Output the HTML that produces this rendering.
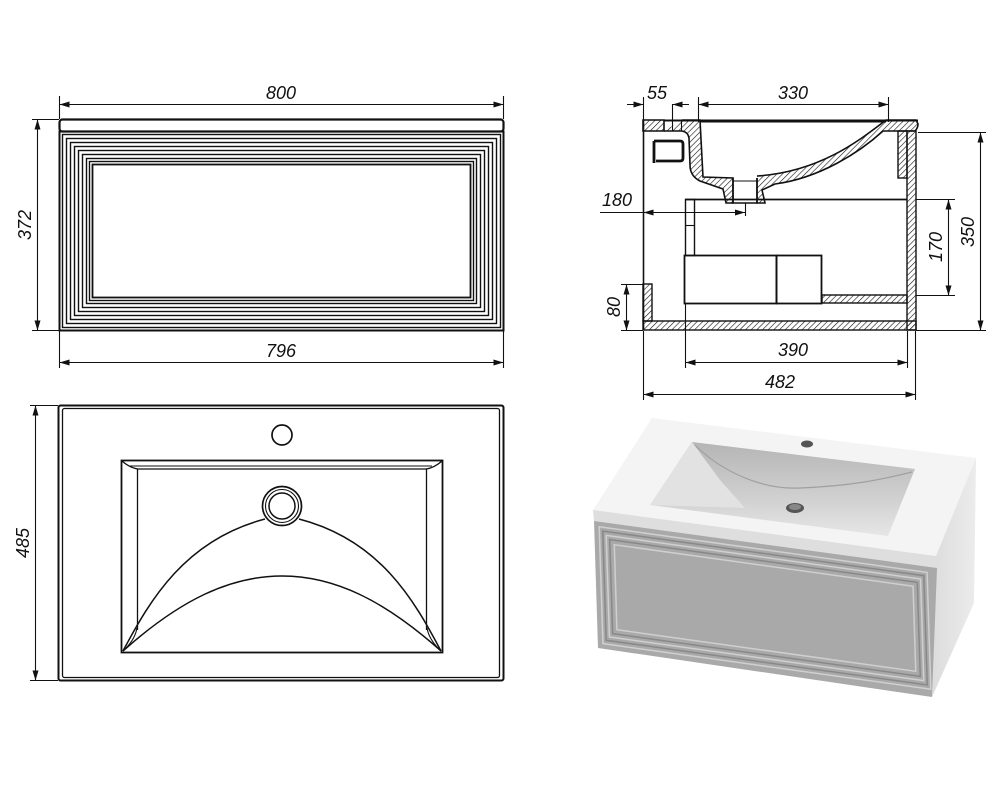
<!DOCTYPE html>
<html><head><meta charset="utf-8"><style>
html,body{margin:0;padding:0;background:#fff;}
svg{display:block;}
text{font-family:"Liberation Sans",sans-serif;font-style:italic;font-size:18px;fill:#111;}
</style></head><body>
<svg width="1000" height="800" viewBox="0 0 1000 800" xmlns="http://www.w3.org/2000/svg">
<defs>
<pattern id="h" width="4" height="4" patternUnits="userSpaceOnUse" patternTransform="rotate(45)">
<line x1="0" y1="0" x2="0" y2="4" stroke="#111" stroke-width="1.2"/>
</pattern>
<marker id="a" viewBox="0 0 10 6" refX="10" refY="3" markerWidth="10" markerHeight="6" orient="auto-start-reverse" markerUnits="userSpaceOnUse">
<path d="M0,0 L10,3 L0,6 Z" fill="#111"/>
</marker>
<linearGradient id="bas" x1="0" y1="0" x2="0" y2="1">
<stop offset="0" stop-color="#b5b5b5"/><stop offset="0.6" stop-color="#d0d0d0"/><stop offset="1" stop-color="#e6e6e6"/>
</linearGradient>
<linearGradient id="side" x1="0" y1="0" x2="1" y2="0">
<stop offset="0" stop-color="#dcdcdc"/><stop offset="1" stop-color="#ececec"/>
</linearGradient>
</defs>

<g stroke="#111" fill="none" stroke-width="1.1">
<!-- ===== FRONT VIEW ===== -->
<rect x="59.5" y="119.5" width="444" height="12" rx="3" stroke-width="2.2"/>
<rect x="59.5" y="131.5" width="444" height="199" stroke-width="2"/>
<g stroke-width="1.4">
<rect x="62.5" y="134.5" width="438" height="193" />
<rect x="66.5" y="138.5" width="430" height="185" />
<rect x="70.5" y="142.5" width="422" height="177" />
<rect x="74.5" y="146.5" width="414" height="169" />
<rect x="78.5" y="150.5" width="406" height="161" />
<rect x="82.5" y="154.5" width="398" height="153" />
<rect x="86.5" y="158.5" width="390" height="145" />
<rect x="89.5" y="161.5" width="384" height="139" />
</g>
<rect x="92.5" y="164.5" width="378" height="133" stroke-width="1.8"/>
<!-- dims -->
<line x1="59.5" y1="96" x2="59.5" y2="119"/>
<line x1="503.5" y1="96" x2="503.5" y2="119"/>
<line x1="59.5" y1="104.5" x2="503.5" y2="104.5" marker-start="url(#a)" marker-end="url(#a)"/>
<line x1="32" y1="119.5" x2="59" y2="119.5"/>
<line x1="32" y1="330.5" x2="59" y2="330.5"/>
<line x1="37.5" y1="119.5" x2="37.5" y2="330.5" marker-start="url(#a)" marker-end="url(#a)"/>
<line x1="59.5" y1="331" x2="59.5" y2="368"/>
<line x1="503.5" y1="331" x2="503.5" y2="368"/>
<line x1="59.5" y1="362.5" x2="503.5" y2="362.5" marker-start="url(#a)" marker-end="url(#a)"/>

<!-- ===== TOP VIEW ===== -->
<rect x="58.5" y="405.5" width="445" height="275" rx="2" stroke-width="2"/>
<rect x="62.5" y="408.5" width="437" height="269" rx="2" stroke-width="1.3"/>
<circle cx="282" cy="435" r="10" stroke-width="1.7"/>
<rect x="121.5" y="460.5" width="321" height="192" stroke-width="1.8"/>
<path d="M122,461 Q130,468 138,469 L426,469 Q434,468 442,461" stroke-width="1.3"/>
<path d="M130,466 L432,466"/>
<line x1="137.5" y1="469" x2="137.5" y2="630" stroke-width="1.3"/>
<line x1="426.5" y1="469" x2="426.5" y2="630" stroke-width="1.3"/>
<path d="M123,651 C150,600 185,540 265,519" stroke-width="1.5"/>
<path d="M441,651 C414,600 380,540 299,519" stroke-width="1.5"/>
<path d="M123,651 C180,600 230,576 282,576 C334,576 384,600 441,651" stroke-width="1.5"/>
<path d="M123,651 Q135,640 137,628 M441,651 Q429,640 427,628"/>
<circle cx="282" cy="506" r="19.5" stroke-width="1.7"/>
<circle cx="282" cy="506" r="16.5"/>
<circle cx="282" cy="506" r="13" stroke-width="1.5"/>
<line x1="30" y1="405.5" x2="58" y2="405.5"/>
<line x1="30" y1="680.5" x2="58" y2="680.5"/>
<line x1="35.5" y1="405.5" x2="35.5" y2="680.5" marker-start="url(#a)" marker-end="url(#a)"/>

<!-- ===== SIDE SECTION ===== -->
<path d="M643,120 L664,120 L664,131 L643,131 Z" fill="url(#h)" stroke-width="1.6"/>
<line x1="643.5" y1="120" x2="643.5" y2="330" stroke-width="1.6"/>
<line x1="672.5" y1="104" x2="672.5" y2="131"/>
<line x1="681.5" y1="120" x2="681.5" y2="131"/>
<line x1="664" y1="120.5" x2="918" y2="120.5" stroke-width="2"/>
<path d="M682,120 L700,120 L703,177 L733,178 L733,203 L726,203 L723,189 L700,181 Q690,176 690,165 L689,138 Q688,132 682,131 L664,131" fill="url(#h)" stroke-width="1.6"/>
<path d="M757,178 L757,203 L765,203 L762,190 L775,184 C820,178 860,152 883,131 L915,131 Q918,128 918,124 L916,120 L886,120 C860,140 820,172 757,176" fill="url(#h)" stroke-width="1.6"/>
<path d="M733,178 L733,203 L757,203 L757,178" stroke-width="1.6"/>
<line x1="733" y1="181" x2="757" y2="181"/>
<line x1="700" y1="122" x2="886" y2="122"/>
<path d="M654,141 L654,163 M654,141 L680,141 Q683,141 683,144 L683,158 Q683,161 680,161 L656,161" stroke-width="2.8"/>
<rect x="898" y="131" width="9" height="47" fill="url(#h)" stroke-width="1.4"/>
<rect x="907" y="131" width="9" height="199" fill="url(#h)" stroke-width="1.4"/>
<rect x="643" y="321" width="273" height="9" fill="url(#h)" stroke-width="1.4"/>
<rect x="643" y="284" width="9" height="37" fill="url(#h)" stroke-width="1.4"/>
<rect x="822" y="295" width="85" height="8" fill="url(#h)" stroke-width="1.4"/>
<line x1="685" y1="199.5" x2="907" y2="199.5" stroke-width="1.7"/>
<rect x="685.5" y="199.5" width="9" height="56" stroke-width="1.4"/>
<line x1="685" y1="225.5" x2="695" y2="225.5"/>
<rect x="684.5" y="255.5" width="92" height="48" stroke-width="1.8"/>
<rect x="776.5" y="255.5" width="45" height="48" stroke-width="1.8"/>
<!-- dims -->
<line x1="643.5" y1="97" x2="643.5" y2="120"/>
<line x1="627" y1="104.5" x2="643.5" y2="104.5" marker-end="url(#a)"/>
<line x1="672.5" y1="104.5" x2="689" y2="104.5" marker-start="url(#a)"/>
<line x1="698.5" y1="97" x2="698.5" y2="122"/>
<line x1="888.5" y1="97" x2="888.5" y2="122"/>
<line x1="698.5" y1="104.5" x2="888.5" y2="104.5" marker-start="url(#a)" marker-end="url(#a)"/>
<line x1="600" y1="212.5" x2="745" y2="212.5"/>
<line x1="643.5" y1="212.5" x2="745" y2="212.5" marker-start="url(#a)" marker-end="url(#a)"/>
<line x1="745.5" y1="203" x2="745.5" y2="216"/>
<line x1="916" y1="199.5" x2="955" y2="199.5"/>
<line x1="916" y1="295.5" x2="955" y2="295.5"/>
<line x1="948.5" y1="199.5" x2="948.5" y2="295.5" marker-start="url(#a)" marker-end="url(#a)"/>
<line x1="918" y1="132.5" x2="986" y2="132.5"/>
<line x1="916" y1="330.5" x2="986" y2="330.5"/>
<line x1="980.5" y1="132.5" x2="980.5" y2="330.5" marker-start="url(#a)" marker-end="url(#a)"/>
<line x1="621" y1="284.5" x2="643" y2="284.5"/>
<line x1="621" y1="330.5" x2="643" y2="330.5"/>
<line x1="626.5" y1="284.5" x2="626.5" y2="330.5" marker-start="url(#a)" marker-end="url(#a)"/>
<line x1="685.5" y1="304" x2="685.5" y2="368"/>
<line x1="907.5" y1="331" x2="907.5" y2="368"/>
<line x1="685.5" y1="362.5" x2="907.5" y2="362.5" marker-start="url(#a)" marker-end="url(#a)"/>
<line x1="643.5" y1="331" x2="643.5" y2="400"/>
<line x1="915.5" y1="331" x2="915.5" y2="400"/>
<line x1="643.5" y1="394.5" x2="915.5" y2="394.5" marker-start="url(#a)" marker-end="url(#a)"/>
</g>

<text x="281" y="99" text-anchor="middle">800</text>
<text x="281" y="357" text-anchor="middle">796</text>
<text transform="translate(31,225) rotate(-90)" text-anchor="middle">372</text>
<text transform="translate(29,543) rotate(-90)" text-anchor="middle">485</text>
<text x="657" y="99" text-anchor="middle">55</text>
<text x="793" y="99" text-anchor="middle">330</text>
<text x="617" y="206" text-anchor="middle">180</text>
<text transform="translate(942,247) rotate(-90)" text-anchor="middle">170</text>
<text transform="translate(974,232) rotate(-90)" text-anchor="middle">350</text>
<text transform="translate(620,307) rotate(-90)" text-anchor="middle">80</text>
<text x="793" y="356" text-anchor="middle">390</text>
<text x="780" y="388" text-anchor="middle">482</text>

<!-- ===== 3D RENDER ===== -->
<polygon points="933,558 976,458 974,603 932,697" fill="url(#side)"/>
<polygon points="593,510 652,418 976,458 936,556" fill="#f4f4f4"/>
<polygon points="593,510 936,556 937,568 594,521" fill="#dedede"/>
<polygon points="594,521 937,568 932,697 598,648" fill="#a9a9a9"/>
<polygon points="692,442 915,469 888,536 650,505" fill="url(#bas)"/>
<path d="M695,445 C720,470 760,490 800,488 C850,486 880,480 912,472" fill="none" stroke="#a0a0a0" stroke-width="1.2"/>
<polygon points="650,505 692,442 720,480 745,508" fill="#e2e2e2"/>
<ellipse cx="795" cy="508" rx="9" ry="5" fill="#555"/>
<ellipse cx="795" cy="507" rx="6" ry="3" fill="#888"/>
<ellipse cx="807" cy="444" rx="6" ry="3.5" fill="#555"/>
<g transform="matrix(338,47,4,127,594,521)" fill="none" stroke-width="1.5">
<rect x="0.015" y="0.04" width="0.97" height="0.92" vector-effect="non-scaling-stroke" stroke="#d0d0d0"/>
<rect x="0.025" y="0.07" width="0.95" height="0.86" vector-effect="non-scaling-stroke" stroke="#888"/>
<rect x="0.035" y="0.10" width="0.93" height="0.80" vector-effect="non-scaling-stroke" stroke="#d0d0d0"/>
<rect x="0.045" y="0.13" width="0.91" height="0.74" vector-effect="non-scaling-stroke" stroke="#888"/>
<rect x="0.058" y="0.165" width="0.884" height="0.67" vector-effect="non-scaling-stroke" stroke="#cfcfcf"/>
</g>
</svg>
</body></html>
